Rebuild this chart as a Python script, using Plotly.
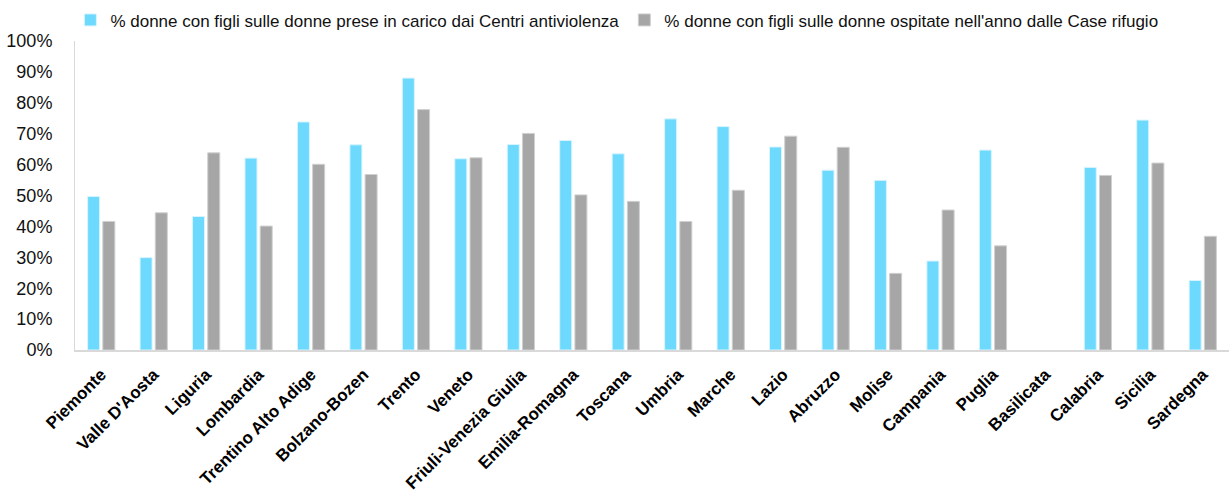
import plotly.graph_objects as go

regioni = ["Piemonte", "Valle D'Aosta", "Liguria", "Lombardia", "Trentino Alto Adige",
           "Bolzano-Bozen", "Trento", "Veneto", "Friuli-Venezia Giulia", "Emilia-Romagna",
           "Toscana", "Umbria", "Marche", "Lazio", "Abruzzo", "Molise", "Campania",
           "Puglia", "Basilicata", "Calabria", "Sicilia", "Sardegna"]

# % donne con figli - Centri antiviolenza
centri = [49.7, 29.9, 43.2, 62.1, 73.8, 66.4, 88.0, 61.9, 66.5, 67.8, 63.5,
          74.8, 72.3, 65.7, 58.2, 54.9, 28.8, 64.7, None, 59.1, 74.4, 22.5]

# % donne con figli - Case rifugio
case = [41.6, 44.4, 63.8, 40.1, 60.1, 56.8, 77.8, 62.2, 70.1, 50.2, 48.1,
        41.6, 51.7, 69.2, 65.6, 24.8, 45.3, 33.7, None, 56.5, 60.5, 36.8]

nome_centri = "% donne con figli sulle donne prese in carico dai Centri antiviolenza"
nome_case = "% donne con figli sulle donne ospitate nell'anno dalle Case rifugio"

narrow = "Liberation Sans Narrow, Arial Narrow, Liberation Sans"

fig = go.Figure()
fig.add_trace(go.Bar(x=regioni, y=centri, name=nome_centri,
                     marker=dict(color="#6dd9fd", line=dict(color="#d9f4ff", width=1))))
fig.add_trace(go.Bar(x=regioni, y=case, name=nome_case,
                     marker=dict(color="#a6a6a6", line=dict(color="#d0d0d0", width=1))))

fig.update_layout(
    width=1229, height=499,
    margin=dict(l=75, r=0, t=41, b=149, pad=0, autoexpand=False),
    plot_bgcolor="white", paper_bgcolor="white",
    barmode="group", bargap=0.42, bargroupgap=0.21,
    legend=dict(orientation="h", x=-0.004, xanchor="left", y=1.125, yanchor="top",
                font=dict(family=narrow, size=17, color="#111"),
                itemwidth=30, traceorder="normal"),
    font=dict(family=narrow, color="#111"),
)
fig.update_xaxes(type="category", showline=True, linecolor="#d9d9d9", linewidth=2,
                 showgrid=False, ticks="", tickangle=-45,
                 tickfont=dict(family="Liberation Sans, Arial", size=17, color="#000",
                               weight="bold"),
                 ticklabelstandoff=6)
fig.update_yaxes(range=[0, 100], dtick=10, ticksuffix="%", showgrid=False,
                 showline=True, linecolor="#d9d9d9", linewidth=1, zeroline=False,
                 tickfont=dict(family=narrow, size=18, color="#111"),
                 ticks="", ticklabelstandoff=18)

# togliere il margine di default del body
fig.write_html("out.html", config={"displayModeBar": False},
               post_script="document.body.style.margin='0';")
